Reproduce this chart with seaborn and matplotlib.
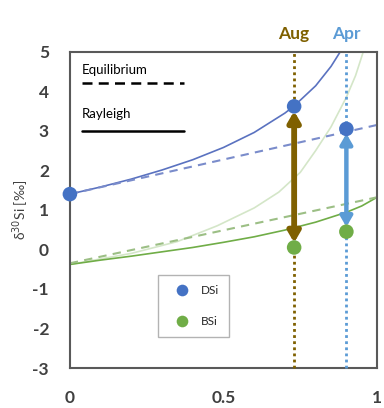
import numpy as np
import pandas as pd
import matplotlib
matplotlib.use('Agg')
import matplotlib.pyplot as plt
import seaborn as sns

# fraction of DSi consumed (x) and delta30Si values
ray_dsi_x = [0, 0.1, 0.2, 0.3, 0.4, 0.5, 0.6, 0.7, 0.73, 0.8, 0.85, 0.88]
ray_dsi_y = [1.40, 1.58, 1.78, 2.01, 2.27, 2.58, 2.96, 3.45, 3.63, 4.14, 4.63, 5.0]

ray_bsi_x = [0, 0.1, 0.2, 0.3, 0.4, 0.5, 0.6, 0.7, 0.8, 0.9, 0.95, 1.0]
ray_bsi_y = [-0.38, -0.27, -0.17, -0.06, 0.05, 0.18, 0.32, 0.49, 0.69, 0.94, 1.10, 1.32]

inst_bsi_x = [0, 0.2, 0.35, 0.48, 0.6, 0.68, 0.75, 0.8, 0.85, 0.9, 0.93, 0.955]
inst_bsi_y = [-0.38, -0.1, 0.2, 0.6, 1.05, 1.45, 1.95, 2.5, 3.1, 3.85, 4.4, 5.0]

eq_dsi_x = [0, 1]
eq_dsi_y = [1.40, 3.15]
eq_bsi_x = [0, 1]
eq_bsi_y = [-0.35, 1.32]

months = ['Aug', 'Apr']
month_x = [0.73, 0.90]
dsi_obs = [3.62, 3.05]
bsi_obs = [0.05, 0.45]
dsi0 = 1.40

blue = '#4472C4'
green = '#70AD47'
pale = '#D4E6C8'
brown = '#7F6000'
lblue = '#5B9BD5'
grey = '#404040'

sns.set_style('white')
plt.rcParams['font.family'] = ['Lato', 'DejaVu Sans']
plt.rcParams['axes.unicode_minus'] = False

fig = plt.figure(figsize=(3.84, 4.08), dpi=100)
ax = fig.add_axes([0.182, 0.098, 0.8, 0.775])

sns.lineplot(x=inst_bsi_x, y=inst_bsi_y, color=pale, lw=1.2, ax=ax)
sns.lineplot(x=ray_dsi_x, y=ray_dsi_y, color='#5A72C0', lw=1.2, ax=ax)
sns.lineplot(x=ray_bsi_x, y=ray_bsi_y, color=green, lw=1.2, ax=ax)
sns.lineplot(x=eq_dsi_x, y=eq_dsi_y, color='#7A8CCB', lw=1.5, ax=ax, linestyle=(0, (4, 3)))
sns.lineplot(x=eq_bsi_x, y=eq_bsi_y, color='#9CBF85', lw=1.5, ax=ax, linestyle=(0, (4, 3)))

# month markers
for mx, c in zip(month_x, [brown, lblue]):
    ax.plot([mx, mx], [-3, 5], color=c, lw=2, linestyle=(0, (1, 1.2)), zorder=3, clip_on=False)

for mx, yd, yb, c, lw in zip(month_x, dsi_obs, bsi_obs, [brown, lblue], [4.2, 3.2]):
    ax.annotate('', xy=(mx, yd - 0.12), xytext=(mx, yb + 0.12),
                arrowprops=dict(arrowstyle='<|-|>,head_length=0.6,head_width=0.35',
                                color=c, lw=lw, shrinkA=0, shrinkB=0), zorder=4)

pts = pd.DataFrame({
    'x': [0] + month_x + month_x,
    'y': [dsi0] + dsi_obs + bsi_obs,
    'kind': ['DSi'] * 3 + ['BSi'] * 2,
})
sns.scatterplot(data=pts, x='x', y='y', hue='kind', palette={'DSi': blue, 'BSi': green},
                s=110, edgecolor='none', ax=ax, zorder=5, clip_on=False)

for mx, lab, c in zip(month_x, months, [brown, lblue]):
    ax.text(mx, 5.25, lab, color=c, fontsize=12.5, fontweight='bold', ha='center', va='bottom')

# line style key
ax.text(0.04, 4.55, 'Equilibrium', fontsize=9.5, color='black', va='center')
ax.plot([0.04, 0.37], [4.2, 4.2], color='black', lw=1.8, linestyle=(0, (4, 2.5)))
ax.text(0.04, 3.42, 'Rayleigh', fontsize=9.5, color='black', va='center')
ax.plot([0.04, 0.37], [3.0, 3.0], color='black', lw=1.8)

leg = ax.legend(loc='upper left', bbox_to_anchor=(0.287, 0.294), borderaxespad=0,
                frameon=True, fancybox=False, fontsize=8.5, handlelength=2.4,
                handletextpad=0.4, labelspacing=1.7, borderpad=0.83, markerscale=0.8)
leg.get_frame().set_edgecolor('#A0A0A0')
leg.get_frame().set_linewidth(1.0)

ax.set_xlim(0, 1)
ax.set_ylim(-3, 5)
ax.set_xticks([0, 0.5, 1])
ax.set_xticklabels(['0', '0.5', '1'])
ax.set_yticks(range(-3, 6))
ax.tick_params(direction='in', length=4, width=1.2, colors='#595959', labelcolor=grey,
               labelsize=12.5, pad=15)
for t in ax.get_xticklabels() + ax.get_yticklabels():
    t.set_fontweight('bold')
ax.tick_params(axis='x', pad=16)
for s in ax.spines.values():
    s.set_color('#595959')
    s.set_linewidth(1.5)
ax.set_xlabel('')
ax.set_ylabel('δ$^{30}$Si [‰]', fontsize=10, color=grey, labelpad=1)

fig.savefig('out.png', dpi=100)
